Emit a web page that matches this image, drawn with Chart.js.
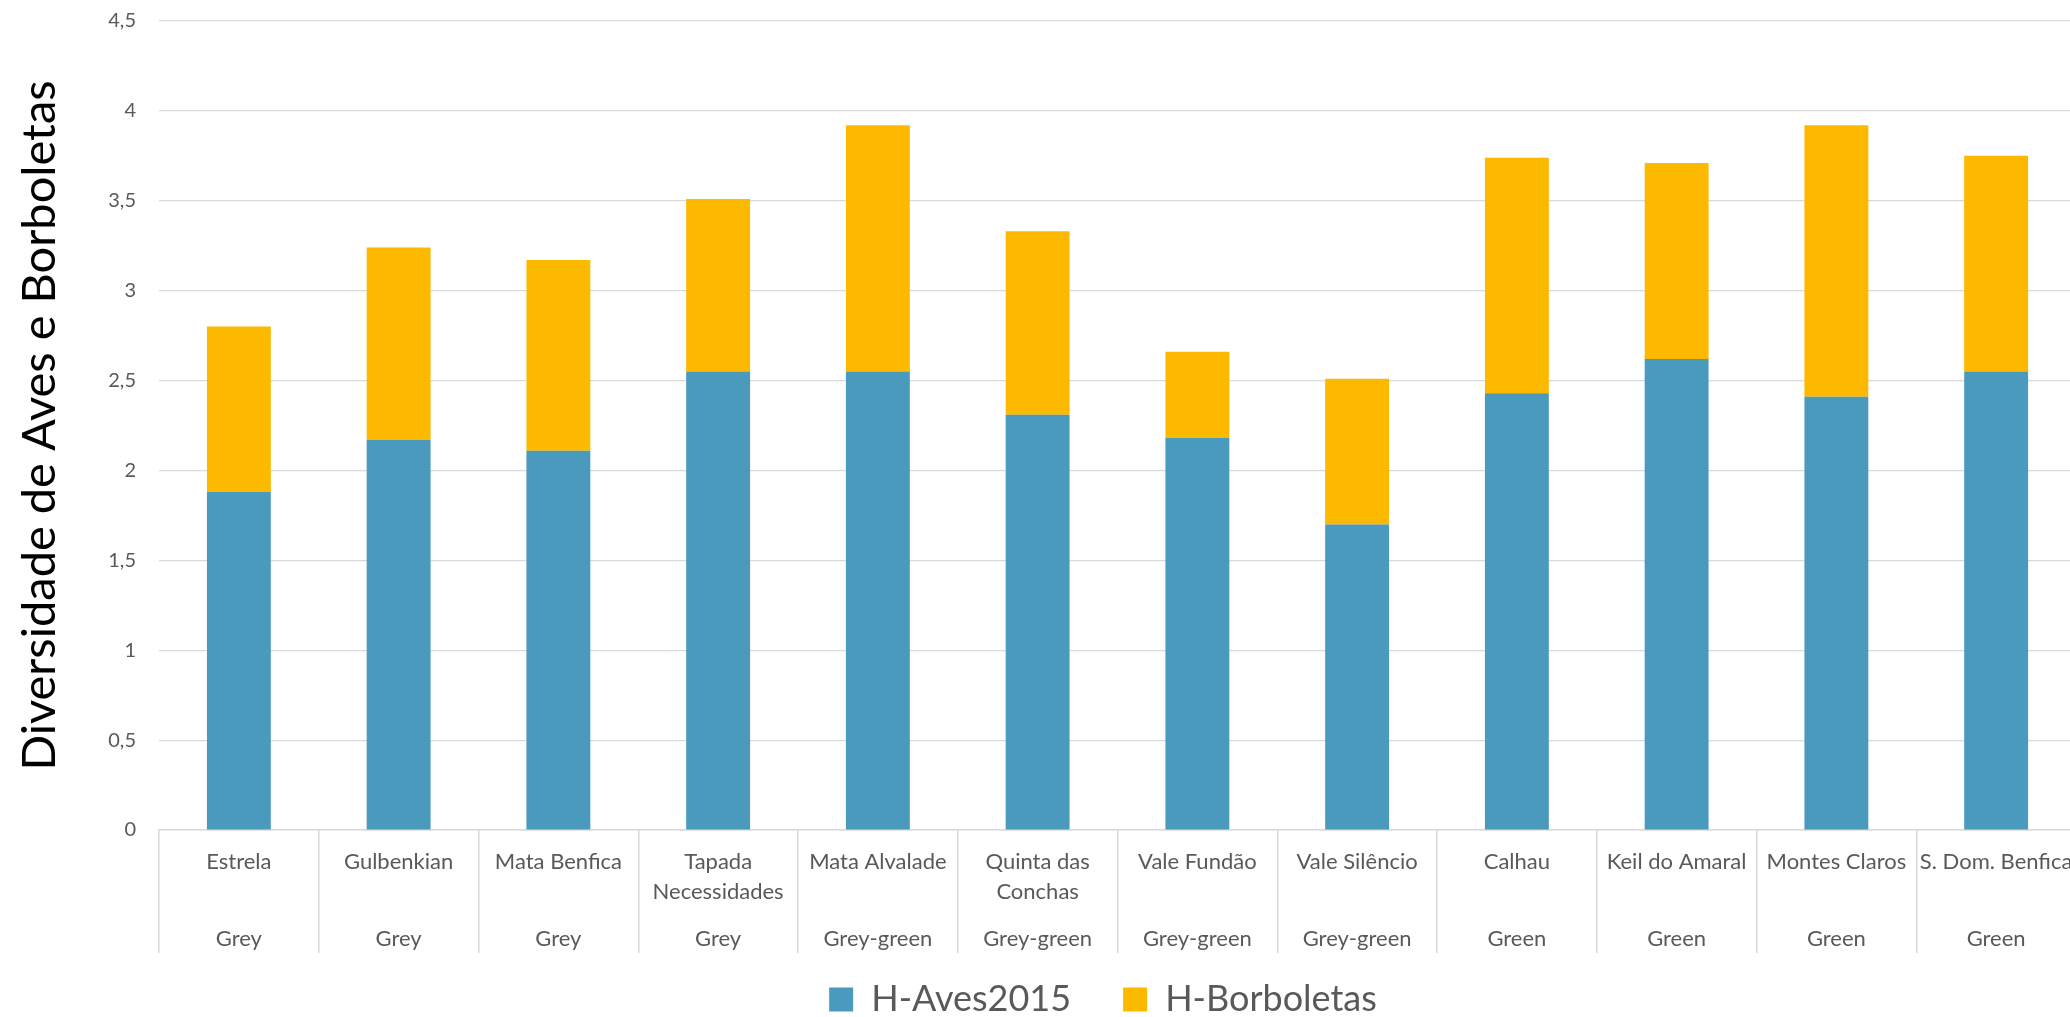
<!DOCTYPE html>
<html>
<head>
<meta charset="utf-8">
<title>Diversidade de Aves e Borboletas</title>
<script src="https://cdn.jsdelivr.net/npm/chart.js@4"></script>
<style>
  html, body { margin: 0; padding: 0; background: #fff; overflow: hidden; }
  #wrap { width: 2076px; height: 1017px; }
</style>
</head>
<body>
<div id="wrap"><canvas id="bar-chart"></canvas></div>
<script>
// parques e tipo de espaço verde
const categories = ["Estrela", "Gulbenkian", "Mata Benfica", ["Tapada", "Necessidades"], "Mata Alvalade",
  ["Quinta das", "Conchas"], "Vale Fundão", "Vale Silêncio", "Calhau", "Keil do Amaral", "Montes Claros", "S. Dom. Benfica"];
const groups = ["Grey", "Grey", "Grey", "Grey", "Grey-green", "Grey-green", "Grey-green", "Grey-green",
  "Green", "Green", "Green", "Green"];

// índices de diversidade (empilhados)
const aves2015 = [1.88, 2.17, 2.11, 2.55, 2.55, 2.31, 2.18, 1.70, 2.43, 2.62, 2.41, 2.55];
const borboletas = [0.92, 1.07, 1.06, 0.96, 1.37, 1.02, 0.48, 0.81, 1.31, 1.09, 1.51, 1.20];

const yTicks = { min: 0, max: 4.5, step: 0.5 };

const grey = "#595959";
const gridColor = "#d9d9d9";

// move a legenda para a posição certa, por baixo das categorias
const legendShift = {
  id: "legendShift",
  afterLayout(chart) {
    const lg = chart.legend;
    if (!lg) return;
    lg.left += 65;
    lg.right += 65;
    lg.top = 929.5;
    lg.bottom = chart.height;
    lg.height = lg.bottom - lg.top;
  }
};

new Chart(document.getElementById("bar-chart"), {
  type: "bar",
  data: {
    labels: categories,
    datasets: [{
        data: aves2015,
        label: "H-Aves2015",
        backgroundColor: "#4A9ABE",
        categoryPercentage: 1,
        barPercentage: 0.4
      }, {
        data: borboletas,
        label: "H-Borboletas",
        backgroundColor: "#FDB800",
        categoryPercentage: 1,
        barPercentage: 0.4
      }
    ]
  },
  options: {
    responsive: true,
    maintainAspectRatio: false,
    animation: false,
    layout: { padding: { top: 21, right: 0, left: 0, bottom: 0 } },
    plugins: {
      tooltip: { enabled: false },
      legend: {
        position: "bottom",
        maxHeight: 65,
        labels: {
          font: { family: "Lato", size: 36 },
          color: grey,
          boxWidth: 24,
          boxHeight: 24,
          padding: 52
        }
      }
    },
    scales: {
      x: {
        stacked: true,
        offset: true,
        afterFit(scale) { scale.height = 77; },
        border: { display: true, color: gridColor, width: 1.5 },
        grid: {
          offset: true,
          drawOnChartArea: false,
          drawTicks: true,
          tickLength: 123,
          color: gridColor,
          lineWidth: 1.5
        },
        ticks: {
          autoSkip: false,
          maxRotation: 0,
          padding: -106,
          color: grey,
          font: { family: "Lato", size: 22, lineHeight: 1.364 }
        }
      },
      x2: {
        type: "category",
        position: "bottom",
        labels: groups,
        offset: true,
        afterFit(scale) { scale.height = 45; },
        border: { display: false },
        grid: { display: false },
        ticks: {
          autoSkip: false,
          maxRotation: 0,
          padding: 9,
          color: grey,
          font: { family: "Lato", size: 22, lineHeight: 1.364 }
        }
      },
      y: {
        stacked: true,
        min: yTicks.min,
        max: yTicks.max,
        afterFit(scale) {
          scale.width = 159;
          scale.paddingTop = 0;
          scale.paddingBottom = 0;
        },
        border: { display: false },
        grid: { color: gridColor, lineWidth: 1.2, drawTicks: false },
        ticks: {
          stepSize: yTicks.step,
          padding: 23,
          color: grey,
          font: { family: "Lato", size: 20 },
          callback: v => String(v).replace(".", ",")
        },
        title: {
          display: true,
          text: "Diversidade de Aves e Borboletas",
          color: "#000",
          font: { family: "Lato", size: 47, lineHeight: 1.2 },
          padding: { top: 12, bottom: 0 }
        }
      }
    }
  },
  plugins: [legendShift]
});
</script>
</body>
</html>
